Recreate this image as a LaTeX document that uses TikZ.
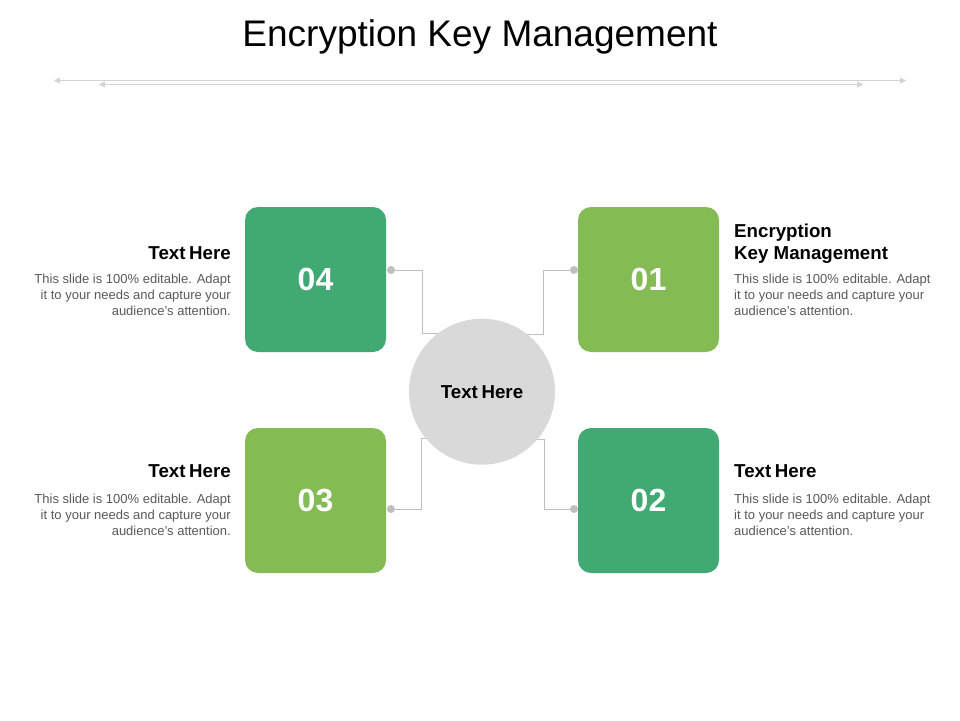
\documentclass[tikz,border=0pt]{standalone}
\usepackage{fontspec}
\setmainfont{Liberation Sans}
\usetikzlibrary{arrows.meta,positioning}
\definecolor{darkgreen}{HTML}{41A973}
\definecolor{lightgreen}{HTML}{84BB55}
\definecolor{circlegray}{HTML}{D9D9D9}
\definecolor{conngray}{HTML}{BFBFBF}
\definecolor{rulegray}{HTML}{D4D4D4}
\definecolor{bodygray}{HTML}{595959}
\tikzset{>={Triangle[length=6pt,width=6pt]}}

\begin{document}
\begin{tikzpicture}[x=1pt,y=-1pt,
        numbox/.style={rounded corners=13pt,minimum width=141pt,minimum height=145pt,
          inner sep=0pt,text=white,font=\bfseries\fontsize{32}{32}\selectfont},
        heading/.style={inner sep=0pt,font=\bfseries\fontsize{18.7}{22}\selectfont},
        body/.style={inner sep=0pt,text=bodygray,font=\fontsize{13}{16}\selectfont},
        conn/.style={draw=conngray,line width=1pt},
        dot/.style={circle,fill=conngray,minimum size=8pt,inner sep=0pt},
        rule/.style={draw=rulegray,line width=0.8pt,<->}]
        \useasboundingbox (0,0) rectangle (960,720);
        \node[anchor=base,font=\fontsize{37}{40}\selectfont] (title) at (480,46) {Encryption Key Management};
        % rules under the title
        \coordinate (r1a) at (54,80.5);
        \coordinate (r1b) at (906,80.5);
        \coordinate (r2a) at (99,84.5);
        \coordinate (r2b) at (863,84.5);
        \draw[rule] (r1a) -- (r1b);
        \draw[rule] (r2a) -- (r2b);
        % boxes
        \node[numbox,fill=lightgreen] (b1) at (648.5,279.5) {01};
        \node[numbox,fill=darkgreen] (b2) at (648.5,500.5) {02};
        \node[numbox,fill=lightgreen] (b3) at (315.5,500.5) {03};
        \node[numbox,fill=darkgreen] (b4) at (315.5,279.5) {04};
        \node[circle,fill=circlegray,minimum size=146pt,inner sep=0pt] (c) at (482,391.7) {};
        \node[heading,anchor=base] at (482,398) {Text\hspace{-1.5pt} Here};
        % connectors
        \node[dot] (d1) at (574,270) {};
        \node[dot] (d2) at (574,509) {};
        \node[dot] (d3) at (391,509) {};
        \node[dot] (d4) at (391,270) {};
        \coordinate (k1) at (543,270);
        \coordinate (k2) at (544,509);
        \coordinate (k3) at (421.5,509);
        \coordinate (k4) at (422,270);
        \draw[conn] (d1) -- (k1) |- (c.52.6);
        \draw[conn] (d2) -- (k2) |- (c.319.9);
        \draw[conn] (d3) -- (k3) |- (c.220.1);
        \draw[conn] (d4) -- (k4) |- (c.127.4);
        % texts
        \node[heading,anchor=north west,align=left] (h1) at (734,223.5) {Encryption\\Key Management};
        \node[body,anchor=north west,align=left] (t1) at (734,273.8) {This slide is 100\% editable. Adapt\\it to your needs and capture your\\audience's attention.};
        \node[heading,anchor=base west] (h2) at (734,477.7) {Text\hspace{-1.5pt} Here};
        \node[body,anchor=north west,align=left] (t2) at (734,493.8) {This slide is 100\% editable. Adapt\\it to your needs and capture your\\audience's attention.};
        \node[heading,anchor=base east] (h3) at (231,477.7) {Text\hspace{-1.5pt} Here};
        \node[body,anchor=north east,align=right] (t3) at (231,493.8) {This slide is 100\% editable. Adapt\\it to your needs and capture your\\audience's attention.};
        \node[heading,anchor=base east] (h4) at (231,259.3) {Text\hspace{-1.5pt} Here};
        \node[body,anchor=north east,align=right] (t4) at (231,273.8) {This slide is 100\% editable. Adapt\\it to your needs and capture your\\audience's attention.};
\end{tikzpicture}
\end{document}
